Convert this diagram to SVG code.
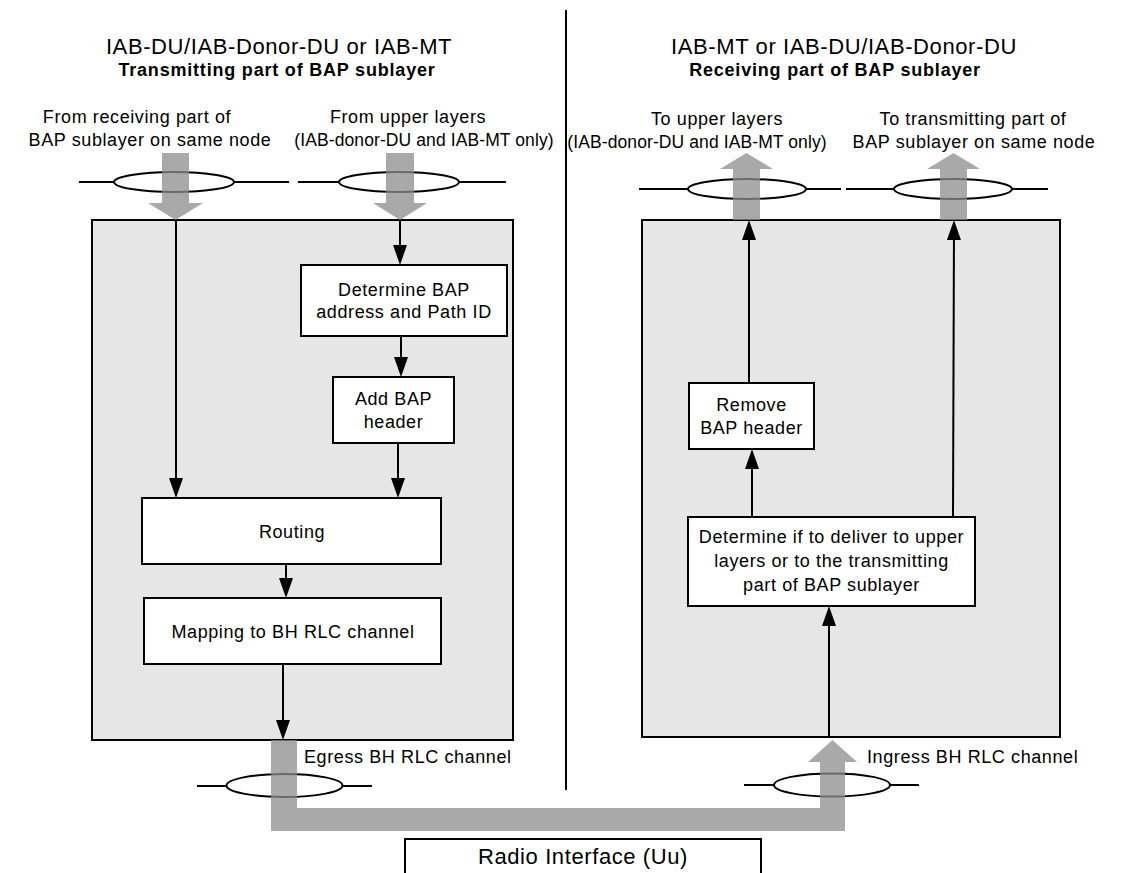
<svg xmlns="http://www.w3.org/2000/svg" width="1121" height="873" viewBox="0 0 1121 873">
<style>
.t{font-family:"Liberation Sans",Arial,sans-serif;fill:#000}
.title{font-size:22px;letter-spacing:0.6px}
.sub{font-size:18px;font-weight:bold;letter-spacing:0.8px}
.lbl{font-size:18px;letter-spacing:0.6px}
.lbn{font-size:17.5px;letter-spacing:0.1px}
.panel{fill:#e6e6e6;stroke:#000;stroke-width:2}
.node{fill:#fff;stroke:#000;stroke-width:2}
.conn{stroke:#000;stroke-width:2;fill:none;marker-end:url(#ah)}
.ell{fill:none;stroke:#000;stroke-width:2}
.ch{stroke:#000;stroke-width:2;fill:none}
.gray{fill:#8c8c8c;fill-opacity:0.75}
</style>
<defs>
<marker id="ah" viewBox="0 0 20 14" refX="16" refY="7" markerWidth="20" markerHeight="14" markerUnits="userSpaceOnUse" orient="auto">
<path d="M0,0 L20,7 L0,14 z" fill="#000"/>
</marker>
</defs>
<rect width="1121" height="873" fill="#fff"/>

<g id="titles">
<text class="t title" x="279" y="54" text-anchor="middle">IAB-DU/IAB-Donor-DU or IAB-MT</text>
<text class="t sub" x="277" y="76" text-anchor="middle">Transmitting part of BAP sublayer</text>
<text class="t title" x="844" y="54" text-anchor="middle">IAB-MT or IAB-DU/IAB-Donor-DU</text>
<text class="t sub" x="835" y="76" text-anchor="middle">Receiving part of BAP sublayer</text>
<line x1="566" y1="10" x2="566" y2="790" stroke="#000" stroke-width="2"/>
</g>

<g id="labels">
<text class="t lbl" x="137" y="123" text-anchor="middle">From receiving part of</text>
<text class="t lbl" x="150" y="146" text-anchor="middle">BAP sublayer on same node</text>
<text class="t lbl" x="408" y="123" text-anchor="middle">From upper layers</text>
<text class="t lbn" x="424" y="146" text-anchor="middle">(IAB-donor-DU and IAB-MT only)</text>
<text class="t lbl" x="717" y="125" text-anchor="middle">To upper layers</text>
<text class="t lbn" x="697" y="148" text-anchor="middle">(IAB-donor-DU and IAB-MT only)</text>
<text class="t lbl" x="973" y="125" text-anchor="middle">To transmitting part of</text>
<text class="t lbl" x="974" y="148" text-anchor="middle">BAP sublayer on same node</text>
<text class="t lbl" x="304" y="763">Egress BH RLC channel</text>
<text class="t lbl" x="867" y="763">Ingress BH RLC channel</text>
</g>

<g id="tx-panel">
<rect class="panel" x="92" y="220" width="421" height="520"/>
</g>
<g id="rx-panel">
<rect class="panel" x="642" y="220" width="418" height="517"/>
</g>

<g id="channels">
<line class="ch" x1="79" y1="182" x2="114" y2="182"/>
<ellipse class="ell" cx="174" cy="182" rx="60" ry="10"/>
<line class="ch" x1="234" y1="182" x2="289" y2="182"/>
<line class="ch" x1="298" y1="182" x2="339" y2="182"/>
<ellipse class="ell" cx="399" cy="182" rx="60" ry="10"/>
<line class="ch" x1="459" y1="182" x2="506" y2="182"/>
<line class="ch" x1="639" y1="189" x2="688" y2="189"/>
<ellipse class="ell" cx="747" cy="189" rx="59" ry="10"/>
<line class="ch" x1="806" y1="189" x2="841" y2="189"/>
<line class="ch" x1="846" y1="189" x2="895" y2="189"/>
<ellipse class="ell" cx="953" cy="189" rx="59" ry="10"/>
<line class="ch" x1="1012" y1="189" x2="1048" y2="189"/>
<line class="ch" x1="197" y1="786" x2="226" y2="786"/>
<ellipse class="ell" cx="284.5" cy="785.5" rx="58" ry="11.5"/>
<line class="ch" x1="343" y1="786" x2="372" y2="786"/>
<line class="ch" x1="744" y1="785" x2="774" y2="785"/>
<ellipse class="ell" cx="832" cy="785" rx="58" ry="11.5"/>
<line class="ch" x1="890" y1="785" x2="919" y2="785"/>
</g>

<g id="flows">
<polygon class="gray" points="162,153 189,153 189,203 203,203 175.5,220 148,203 162,203"/>
<polygon class="gray" points="386,153 414,153 414,203 427,203 400,220 373,203 386,203"/>
<polygon class="gray" points="733,220 760,220 760,169 773,169 746.5,153 720,169 733,169"/>
<polygon class="gray" points="940,220 967,220 967,169 980,169 953.5,153 927,169 940,169"/>
<path class="gray" d="M271,740 H297 V808 H820 V762 H808 L832.5,740 L857,762 H845 V831 H271 Z"/>
</g>

<g id="determine-bap">
<rect class="node" x="301" y="265" width="206" height="71"/>
<text class="t lbl" x="404" y="296" text-anchor="middle">Determine BAP</text>
<text class="t lbl" x="404" y="318" text-anchor="middle">address and Path ID</text>
</g>
<g id="add-header">
<rect class="node" x="333" y="377" width="121" height="66"/>
<text class="t lbl" x="393.5" y="405" text-anchor="middle">Add BAP</text>
<text class="t lbl" x="393.5" y="428" text-anchor="middle">header</text>
</g>
<g id="routing">
<rect class="node" x="142" y="498" width="299" height="66"/>
<text class="t lbl" x="292" y="538" text-anchor="middle">Routing</text>
</g>
<g id="mapping">
<rect class="node" x="144" y="598" width="297" height="66"/>
<text class="t lbl" x="293" y="638" text-anchor="middle">Mapping to BH RLC channel</text>
</g>
<g id="remove-header">
<rect class="node" x="689" y="383" width="125" height="66"/>
<text class="t lbl" x="751.5" y="411" text-anchor="middle">Remove</text>
<text class="t lbl" x="751.5" y="434" text-anchor="middle">BAP header</text>
</g>
<g id="determine-deliver">
<rect class="node" x="688" y="517" width="287" height="89"/>
<text class="t lbl" x="831.5" y="543" text-anchor="middle">Determine if to deliver to upper</text>
<text class="t lbl" x="831.5" y="567" text-anchor="middle">layers or to the transmitting</text>
<text class="t lbl" x="831.5" y="591" text-anchor="middle">part of BAP sublayer</text>
</g>
<g id="radio-interface">
<rect class="node" x="405" y="839" width="356" height="60"/>
<text class="t" x="583" y="864" text-anchor="middle" style="font-size:22px;letter-spacing:0.6px">Radio Interface (Uu)</text>
</g>

<g id="connectors">
<line class="conn" x1="176" y1="220" x2="176" y2="494"/>
<line class="conn" x1="400" y1="220" x2="400" y2="261"/>
<line class="conn" x1="401" y1="336" x2="401" y2="373"/>
<line class="conn" x1="398" y1="443" x2="398" y2="494"/>
<line class="conn" x1="286" y1="564" x2="286" y2="594"/>
<line class="conn" x1="283" y1="664" x2="283" y2="736"/>
<line class="conn" x1="829" y1="737" x2="829" y2="610"/>
<line class="conn" x1="752" y1="517" x2="752" y2="453"/>
<line class="conn" x1="749" y1="383" x2="749" y2="224"/>
<line class="conn" x1="953" y1="517" x2="954" y2="224"/>
</g>
</svg>
